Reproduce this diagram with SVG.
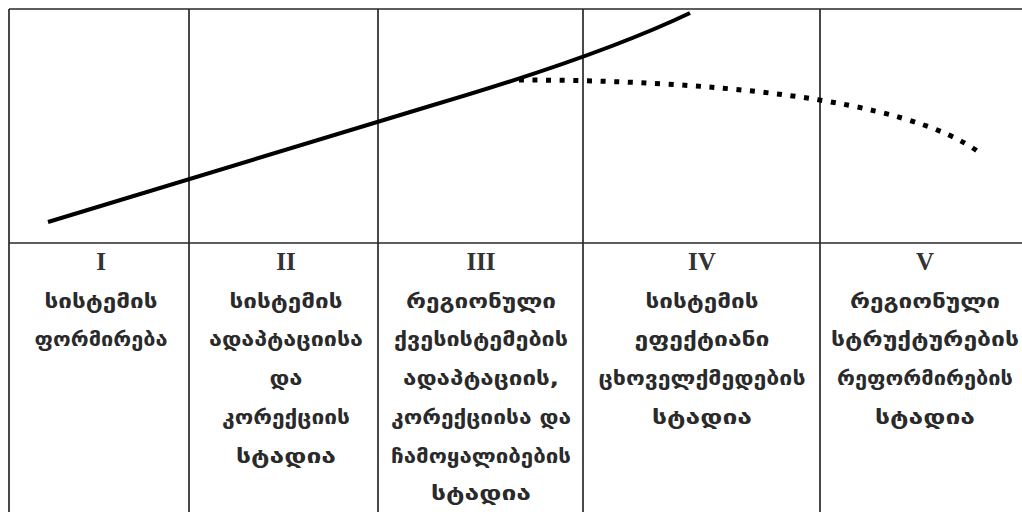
<svg xmlns="http://www.w3.org/2000/svg" width="1022" height="512" viewBox="0 0 1022 512">
<style>
.grid{stroke:#2a2a2a;stroke-width:1.7;fill:none}
.num{font-family:"Liberation Serif",serif;font-weight:bold;font-size:25px;fill:#333;text-anchor:middle}
.ka{font-family:"DejaVu Sans","Noto Sans",sans-serif;font-weight:bold;font-size:20px;fill:#2a2a2a;text-anchor:middle}
.solid{stroke:#000;stroke-width:4;fill:none}
.dot{stroke:#000;stroke-width:5;fill:none;stroke-dasharray:5 8.6}
</style>
<rect width="1022" height="512" fill="#fff"/>
<g id="table">
<path class="grid" d="M9,9 H1030 M9,243 H1030 M9,9 V520 M189,9 V520 M378,9 V520 M583,9 V520 M820,9 V520"/>
</g>
<g id="connectors">
<path class="solid" d="M48,222 L430,106 Q600,56 690,13"/>
<path class="dot" d="M519,80 C700,80 905,97 980,153"/>
</g>
<g id="col1">
<text class="num" x="101" y="270">I</text>
<text class="ka" x="101" y="308" textLength="113" lengthAdjust="spacingAndGlyphs">სისტემის</text>
<text class="ka" x="101" y="346" textLength="133" lengthAdjust="spacingAndGlyphs">ფორმირება</text>
</g>
<g id="col2">
<text class="num" x="286" y="270">II</text>
<text class="ka" x="286" y="308" textLength="113" lengthAdjust="spacingAndGlyphs">სისტემის</text>
<text class="ka" x="286" y="346" textLength="154" lengthAdjust="spacingAndGlyphs">ადაპტაციისა</text>
<text class="ka" x="286" y="385" textLength="33" lengthAdjust="spacingAndGlyphs">და</text>
<text class="ka" x="286" y="424" textLength="128" lengthAdjust="spacingAndGlyphs">კორექციის</text>
<text class="ka" x="286" y="463" textLength="100" lengthAdjust="spacingAndGlyphs">სტადია</text>
</g>
<g id="col3">
<text class="num" x="481" y="270">III</text>
<text class="ka" x="481" y="308" textLength="150" lengthAdjust="spacingAndGlyphs">რეგიონული</text>
<text class="ka" x="481" y="346" textLength="174" lengthAdjust="spacingAndGlyphs">ქვესისტემების</text>
<text class="ka" x="481" y="385" textLength="156" lengthAdjust="spacingAndGlyphs">ადაპტაციის,</text>
<text class="ka" x="481" y="424" textLength="180" lengthAdjust="spacingAndGlyphs">კორექციისა და</text>
<text class="ka" x="481" y="463" textLength="180" lengthAdjust="spacingAndGlyphs">ჩამოყალიბების</text>
<text class="ka" x="481" y="500" textLength="100" lengthAdjust="spacingAndGlyphs">სტადია</text>
</g>
<g id="col4">
<text class="num" x="702" y="270">IV</text>
<text class="ka" x="702" y="308" textLength="113" lengthAdjust="spacingAndGlyphs">სისტემის</text>
<text class="ka" x="702" y="346" textLength="135" lengthAdjust="spacingAndGlyphs">ეფექტიანი</text>
<text class="ka" x="702" y="385" textLength="207" lengthAdjust="spacingAndGlyphs">ცხოველქმედების</text>
<text class="ka" x="702" y="424" textLength="100" lengthAdjust="spacingAndGlyphs">სტადია</text>
</g>
<g id="col5">
<text class="num" x="925" y="270">V</text>
<text class="ka" x="925" y="308" textLength="150" lengthAdjust="spacingAndGlyphs">რეგიონული</text>
<text class="ka" x="925" y="346" textLength="188" lengthAdjust="spacingAndGlyphs">სტრუქტურების</text>
<text class="ka" x="925" y="385" textLength="176" lengthAdjust="spacingAndGlyphs">რეფორმირების</text>
<text class="ka" x="925" y="424" textLength="100" lengthAdjust="spacingAndGlyphs">სტადია</text>
</g>
</svg>
